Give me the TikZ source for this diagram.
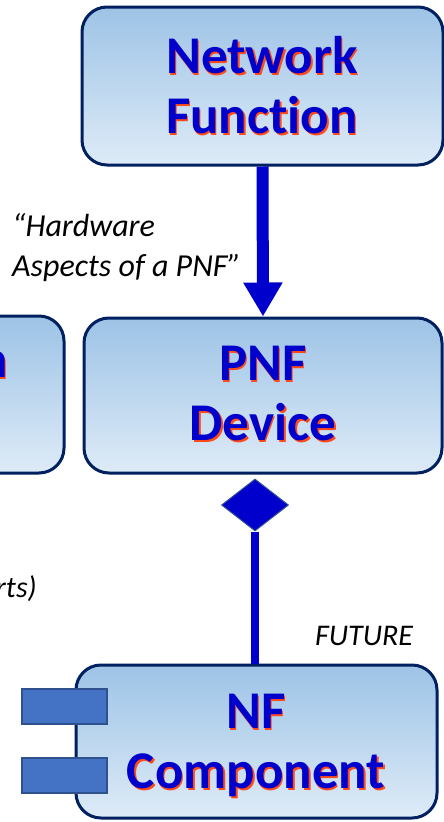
\documentclass[tikz,border=0pt]{standalone}
\usepackage{fontspec}
\setmainfont{Carlito}[Ligatures=NoCommon]
\usetikzlibrary{arrows.meta,shapes.geometric}

\definecolor{nfblue}{HTML}{0000CC}
\definecolor{glowred}{HTML}{FF4A1A}
\definecolor{boxnavy}{HTML}{002060}
\definecolor{shadetop}{HTML}{9DC3E6}
\definecolor{shadebot}{HTML}{DEEBF7}
\definecolor{portfill}{HTML}{4472C4}
\definecolor{portline}{HTML}{2F528F}

\tikzset{
  umlbox/.style={draw=boxnavy, line width=3pt, rounded corners=25pt,
    top color=shadetop, bottom color=shadebot, inner sep=0pt},
  boxtext/.style={font=\bfseries\fontsize{53}{60}\selectfont, text=nfblue,
    align=center, inner sep=0pt},
  note/.style={font=\itshape\fontsize{30}{40}\selectfont, align=left, inner sep=0pt},
  portbox/.style={draw=portline, line width=1.5pt, fill=portfill,
    minimum width=85pt, minimum height=35pt, inner sep=0pt},
}

% text with a red glow behind it
\newcommand{\glowlabel}[4][]{%
  \node[boxtext,#1,text=glowred] at ([shift={(1.5pt,-2pt)}]#3) {#4};
  \node[boxtext,#1] (#2) at (#3) {#4};}

\begin{document}
\begin{tikzpicture}[x=1pt,y=-1pt]
  \useasboundingbox (0,0) rectangle (444,822);
  \clip (0,0) rectangle (444,822);

  % boxes
  \node[umlbox, minimum width=361pt, minimum height=158pt] (nf) at (262.5,86) {};
  \node[umlbox, minimum width=300pt, minimum height=157pt] (side) at (-86,394.5) {};
  \node[umlbox, minimum width=358pt, minimum height=155pt] (dev) at (263,395.5) {};
  \node[umlbox, minimum width=361pt, minimum height=153pt] (comp) at (256.5,741.5) {};

  \glowlabel{nftxt}{262,85}{Network\\Function}
  \glowlabel{devtxt}{263,394}{PNF\\Device}
  \glowlabel{comptxt}{256,745}{NF\\Component}
  \glowlabel[anchor=base east]{sidetxt}{8,377}{n}

  % ports
  \node[portbox] (port1) at (64.5,706.5) {};
  \node[portbox] (port2) at (64.5,775.5) {};

  % connectors
  \draw[nfblue, line width=12pt, -{Triangle[length=34pt,width=37pt]}] (nf.south) -- (dev.north);
  \node[diamond, fill=nfblue, draw=portline, line width=1pt, inner sep=0pt,
    minimum width=67pt, minimum height=52pt] (dia) at (255,505) {};
  \draw[nfblue, line width=8pt] (dia.south) -- (dia.south |- comp.north);

  % notes
  \node[note, anchor=north west, font=\itshape\fontsize{32}{40}\selectfont] (hwnote) at (12,213) {“Hardware\\Aspects of a PNF”};
  \node[note, anchor=base east] (ptnote) at (37,597) {rts)};
  \node[note, anchor=base west] (futnote) at (315,645) {FUTURE};
\end{tikzpicture}
\end{document}
